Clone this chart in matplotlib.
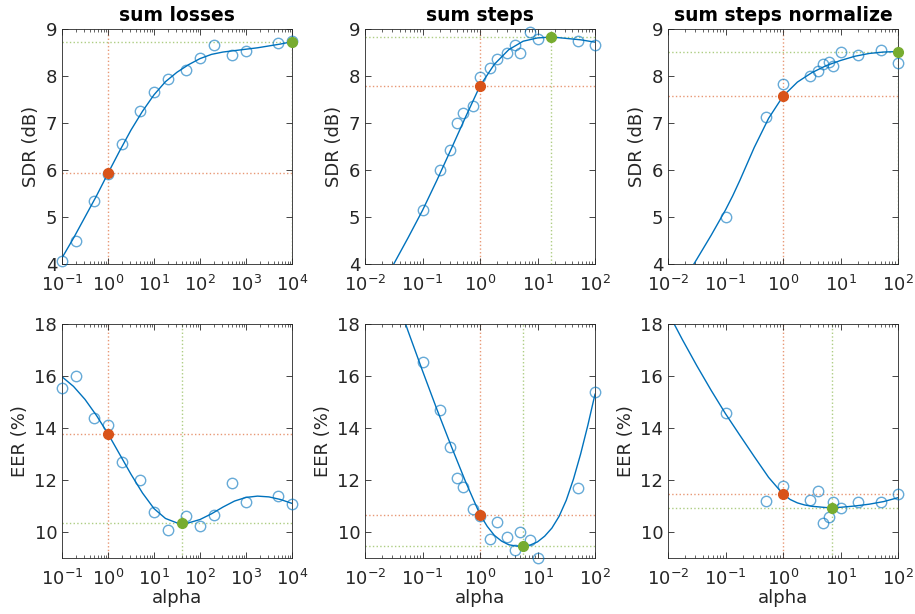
import numpy as np
import matplotlib
matplotlib.use('Agg')
import matplotlib.pyplot as plt
from matplotlib.ticker import LogLocator, NullFormatter

BLUE = '#0072BD'
RED = '#D95319'
GREEN = '#77AC30'

# ---- sum losses ----
loss_alpha = [0.1, 0.2, 0.5, 1, 2, 5, 10, 20, 50, 100, 200, 500, 1000, 5000, 10000]
loss_sdr = [4.06, 4.50, 5.33, 5.92, 6.55, 7.25, 7.66, 7.94, 8.12, 8.38, 8.65, 8.45, 8.54, 8.70, 8.74]
loss_eer = [15.52, 15.99, 14.40, 14.13, 12.71, 12.00, 10.76, 10.06, 10.62, 10.23, 10.67, 11.87, 11.14, 11.39, 11.07]
loss_fit_logx = [-1, -0.75, -0.5, -0.25, 0, 0.25, 0.5, 0.75, 1, 1.25, 1.5, 1.75, 2,
                 2.25, 2.5, 2.75, 3, 3.25, 3.5, 3.75, 4]
loss_sdr_fit = [4.13, 4.55, 5.00, 5.45, 5.93, 6.40, 6.85, 7.25, 7.60, 7.88, 8.08, 8.24, 8.37,
                8.46, 8.51, 8.54, 8.57, 8.60, 8.64, 8.68, 8.73]
loss_eer_fit = [15.97, 15.60, 15.10, 14.48, 13.78, 13.00, 12.22, 11.50, 10.90, 10.52, 10.35, 10.35, 10.48,
                10.70, 10.96, 11.19, 11.33, 11.38, 11.35, 11.25, 11.10]
loss_sdr_def, loss_sdr_best = (1, 5.93), (10000, 8.73)
loss_eer_def, loss_eer_best = (1, 13.77), (40, 10.34)

# ---- sum steps ----
steps_alpha = [0.1, 0.2, 0.3, 0.4, 0.5, 0.75, 1, 1.5, 2, 3, 4, 5, 7.5, 10, 50, 100]
steps_sdr = [5.14, 6.01, 6.43, 7.01, 7.21, 7.37, 7.98, 8.17, 8.37, 8.48, 8.65, 8.50, 8.93, 8.79, 8.74, 8.65]
steps_eer = [16.53, 14.68, 13.26, 12.08, 11.74, 10.88, 10.60, 9.75, 10.40, 9.82, 9.29, 10.00, 9.68, 9.00, 11.68, 15.38]
steps_sdr_logx = [-2, -1.75, -1.5, -1.25, -1, -0.75, -0.5, -0.25, 0, 0.25, 0.5, 0.75, 1, 1.25, 1.5, 1.75, 2]
steps_sdr_fit = [2.90, 3.44, 4.00, 4.56, 5.14, 5.78, 6.45, 7.13, 7.79, 8.25, 8.56, 8.74, 8.81, 8.83, 8.80, 8.77, 8.72]
steps_eer_logx = [-1.5, -1.25, -1, -0.75, -0.5, -0.25, 0, 0.125, 0.25, 0.375, 0.5, 0.625, 0.75,
                  0.875, 1, 1.125, 1.25, 1.375, 1.5, 1.625, 1.75, 1.875, 2]
steps_eer_fit = [19.30, 17.72, 16.20, 14.72, 13.30, 11.93, 10.67, 10.22, 9.87, 9.65, 9.51, 9.46, 9.45,
                 9.50, 9.62, 9.84, 10.15, 10.60, 11.22, 12.03, 13.00, 14.10, 15.30]
steps_sdr_def, steps_sdr_best = (1, 7.79), (17, 8.83)
steps_eer_def, steps_eer_best = (1, 10.67), (5.5, 9.45)

# ---- sum steps normalize ----
norm_alpha = [0.1, 0.5, 1, 3, 4, 5, 6.3, 7.5, 10, 20, 50, 100]
norm_sdr = [5.01, 7.13, 7.82, 8.01, 8.10, 8.26, 8.30, 8.21, 8.51, 8.45, 8.56, 8.28]
norm_eer = [14.59, 11.20, 11.78, 11.23, 11.56, 10.34, 10.58, 11.16, 10.94, 11.16, 11.15, 11.46]
norm_sdr_logx = [-2, -1.75, -1.5, -1.25, -1, -0.875, -0.75, -0.5, -0.25, 0, 0.25, 0.5, 0.75,
                 1, 1.25, 1.5, 1.75, 2]
norm_sdr_fit = [3.10, 3.60, 4.10, 4.61, 5.15, 5.45, 5.78, 6.48, 7.10, 7.57, 7.87, 8.07, 8.22,
                8.33, 8.42, 8.48, 8.51, 8.52]
norm_eer_logx = [-2, -1.75, -1.5, -1.25, -1, -0.75, -0.5, -0.25, 0, 0.125, 0.25, 0.375, 0.5,
                 0.75, 1, 1.25, 1.5, 1.75, 2]
norm_eer_fit = [18.45, 17.40, 16.40, 15.45, 14.55, 13.72, 12.90, 12.10, 11.46, 11.25, 11.12, 11.04, 10.99,
                10.94, 10.95, 11.00, 11.07, 11.17, 11.32]
norm_sdr_def, norm_sdr_best = (1, 7.57), (100, 8.52)
norm_eer_def, norm_eer_best = (1, 11.46), (7.1, 10.93)

titles = ['sum losses', 'sum steps', 'sum steps normalize']
xlims = [(0.1, 1e4), (1e-2, 1e2), (1e-2, 1e2)]

plt.rcParams['font.family'] = 'DejaVu Sans'
fig = plt.figure(figsize=(9.15, 6.14), dpi=100)

lefts = [62 / 915, 365 / 915, 668 / 915]
w = 230 / 915
top_b, top_h = 1 - 264 / 614, 235 / 614
bot_b, bot_h = 1 - 558 / 614, 234 / 614

panels = [
    (loss_alpha, loss_sdr, loss_eer, loss_fit_logx, loss_sdr_fit, loss_fit_logx, loss_eer_fit,
     loss_sdr_def, loss_sdr_best, loss_eer_def, loss_eer_best),
    (steps_alpha, steps_sdr, steps_eer, steps_sdr_logx, steps_sdr_fit, steps_eer_logx, steps_eer_fit,
     steps_sdr_def, steps_sdr_best, steps_eer_def, steps_eer_best),
    (norm_alpha, norm_sdr, norm_eer, norm_sdr_logx, norm_sdr_fit, norm_eer_logx, norm_eer_fit,
     norm_sdr_def, norm_sdr_best, norm_eer_def, norm_eer_best),
]


def style_axis(ax, xlim, ylim, yticks):
    ax.set_xscale('log')
    ax.set_xlim(*xlim)
    ax.set_ylim(*ylim)
    ax.set_yticks(yticks)
    ax.xaxis.set_major_locator(LogLocator(base=10, numticks=10))
    ax.xaxis.set_minor_locator(LogLocator(base=10, subs=np.arange(2, 10), numticks=20))
    ax.xaxis.set_minor_formatter(NullFormatter())
    ax.tick_params(which='both', direction='in', top=True, right=True,
                   colors='#262626', labelsize=13)
    ax.tick_params(which='major', length=4, width=0.6)
    ax.tick_params(which='minor', length=2, width=0.5)
    ax.tick_params(axis='x', which='major', pad=8)
    for s in ax.spines.values():
        s.set_color('#262626')
        s.set_linewidth(0.6)


def draw(ax, alpha, vals, fit_x, fit_y, d, b):
    ax.axvline(d[0], color=RED, ls=':', lw=1.0, alpha=0.6, zorder=1)
    ax.axhline(d[1], color=RED, ls=':', lw=1.0, alpha=0.6, zorder=1)
    ax.axvline(b[0], color=GREEN, ls=':', lw=1.0, alpha=0.6, zorder=1)
    ax.axhline(b[1], color=GREEN, ls=':', lw=1.0, alpha=0.6, zorder=1)
    ax.plot(10 ** np.array(fit_x), fit_y, color=BLUE, lw=1.0, zorder=2)
    ax.plot(alpha, vals, 'o', mfc='none', mec=BLUE, alpha=0.6, ms=7.5, mew=1.0,
            zorder=3, clip_on=False)
    ax.plot(*d, 'o', color=RED, ms=7, zorder=4, clip_on=False)
    ax.plot(*b, 'o', color=GREEN, ms=7, zorder=4, clip_on=False)


for i, p in enumerate(panels):
    alpha, sdr, eer, sx, sfit, ex, efit, sd, sb, ed, eb = p
    ax1 = fig.add_axes([lefts[i], top_b, w, top_h])
    style_axis(ax1, xlims[i], (4, 9), range(4, 10))
    draw(ax1, alpha, sdr, sx, sfit, sd, sb)
    ax1.set_ylabel('SDR (dB)', fontsize=13, color='#262626', labelpad=4)
    ax1.set_title(titles[i], fontsize=13.5, fontweight='bold', pad=6)

    ax2 = fig.add_axes([lefts[i], bot_b, w, bot_h])
    style_axis(ax2, xlims[i], (9, 18), range(10, 19, 2))
    draw(ax2, alpha, eer, ex, efit, ed, eb)
    ax2.set_ylabel('EER (%)', fontsize=13, color='#262626', labelpad=4)
    ax2.set_xlabel('alpha', fontsize=13, color='#262626', labelpad=0)

fig.savefig('out.png', dpi=100)
